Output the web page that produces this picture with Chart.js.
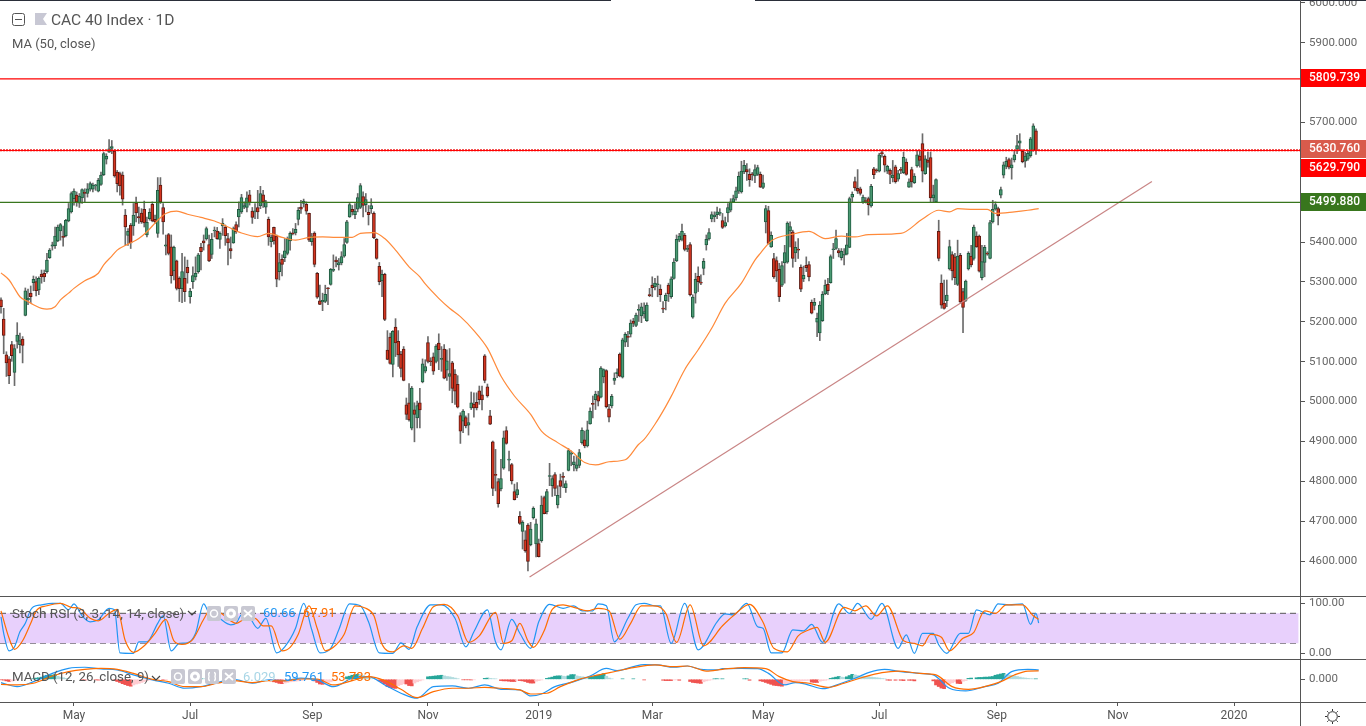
<!DOCTYPE html>
<html>
<head>
<meta charset="utf-8">
<title>CAC 40 Index</title>
<script src="https://cdn.jsdelivr.net/npm/chart.js"></script>
<style>
html, body { margin: 0; padding: 0; background: #fff; overflow: hidden; }
#wrap { position: relative; width: 1366px; height: 726px; font-family: Roboto, sans-serif; color: #555; }
canvas { position: absolute; left: 0; }
.t { position: absolute; white-space: pre; font-size: 13px; line-height: 16px; z-index: 5; }
.rule { position: absolute; background: #555; z-index: 4; }
.ic { position: absolute; z-index: 5; }
</style>
</head>
<body>
<div id="wrap">
  <canvas id="priceChart" width="1366" height="596" style="top:0"></canvas>
  <canvas id="stochChart" width="1366" height="62" style="top:597px"></canvas>
  <canvas id="macdChart" width="1366" height="66" style="top:660px"></canvas>

  <div class="rule" style="left:0;top:0;width:611px;height:1px;background:#2a2e39"></div>
  <div class="rule" style="left:755px;top:0;width:611px;height:1px;background:#2a2e39"></div>
  <div class="rule" style="left:0;top:596px;width:1366px;height:1px"></div>
  <div class="rule" style="left:0;top:659px;width:1366px;height:1px"></div>
  <div class="rule" style="left:0;top:702px;width:1366px;height:1px"></div>
  <div class="rule" style="left:1300px;top:0;width:1px;height:726px"></div>

  <svg class="ic" style="left:12px;top:13px" width="14" height="14"><rect x="0.5" y="0.5" width="12" height="12" rx="2" fill="none" stroke="#555"/><line x1="3" y1="6.5" x2="10" y2="6.5" stroke="#555"/></svg>
  <svg class="ic" style="left:35px;top:13px" width="13" height="13"><polygon points="0,0 12,0 8,6 12,12 0,12" fill="#c8c8d4"/></svg>
  <div class="t" style="left:51px;top:11px;font-size:15.5px;line-height:18px">CAC 40 Index · 1D</div>
  <div class="t" style="left:12px;top:36px">MA (50, close)</div>

  <div class="t" style="left:12px;top:605px;font-size:13.5px">Stoch RSI (3, 3, 14, 14, close)</div>
  <svg class="ic" style="left:187px;top:610px" width="10" height="8"><polyline points="1,1 5,5 9,1" fill="none" stroke="#444" stroke-width="1.2"/></svg>
  <svg class="ic" style="left:207px;top:606px" width="48" height="15">
    <rect width="14" height="15" rx="2" fill="#c8c8d2"/><circle cx="7" cy="7.5" r="3.5" fill="none" stroke="#fff" stroke-width="1.5"/>
    <rect x="17" width="14" height="15" rx="2" fill="#c8c8d2"/><circle cx="24" cy="7.5" r="3.5" fill="none" stroke="#fff" stroke-width="3"/>
    <rect x="34" width="14" height="15" rx="2" fill="#c8c8d2"/><path d="M37 4L45 11M45 4L37 11" stroke="#fff" stroke-width="1.8"/>
  </svg>
  <div class="t" style="left:263px;top:605px;color:#2196f3">60.66</div>
  <div class="t" style="left:303px;top:605px;color:#ff6d00">67.91</div>

  <div class="t" style="left:12px;top:669px;font-size:13.3px">MACD (12, 26, close, 9)</div>
  <svg class="ic" style="left:151px;top:675px" width="10" height="8"><polyline points="1,1 5,5 9,1" fill="none" stroke="#444" stroke-width="1.2"/></svg>
  <svg class="ic" style="left:171px;top:669px" width="65" height="15">
    <rect width="14" height="15" rx="2" fill="#c8c8d2"/><circle cx="7" cy="7.5" r="3.5" fill="none" stroke="#fff" stroke-width="1.5"/>
    <rect x="17" width="14" height="15" rx="2" fill="#c8c8d2"/><circle cx="24" cy="7.5" r="3.5" fill="none" stroke="#fff" stroke-width="3"/>
    <rect x="34" width="14" height="15" rx="2" fill="#c8c8d2"/><path d="M39 3.5Q37 3.5 38 7.5Q37 11.5 39 11.5M43 3.5Q45 3.5 44 7.5Q45 11.5 43 11.5" stroke="#fff" stroke-width="1.4" fill="none"/>
    <rect x="51" width="14" height="15" rx="2" fill="#c8c8d2"/><path d="M54 4L62 11M62 4L54 11" stroke="#fff" stroke-width="1.8"/>
  </svg>
  <div class="t" style="left:243px;top:669px;color:#a8d6e6">6.029</div>
  <div class="t" style="left:284px;top:669px;color:#2196f3">59.761</div>
  <div class="t" style="left:331px;top:669px;color:#ff6d00">53.733</div>

  <svg class="ic" style="left:1324px;top:708px" width="17" height="17"><circle cx="8.5" cy="8.5" r="4.8" fill="none" stroke="#333"/><path d="M8.5 1v2M8.5 14v2M1 8.5h2M14 8.5h2M3.2 3.2l1.4 1.4M12.4 12.4l1.4 1.4M3.2 13.8l1.4-1.4M12.4 4.6l1.4-1.4" stroke="#333"/></svg>
</div>

<script>
// daily candles, oldest first
const opens = [
5255,5207,5117,5107,5143,5073,5151,5143,5157,5216,
5255,5272,5298,5301,5280,5320,5322,5326,5361,5390,
5391,5403,5428,5414,5416,5453,5476,5509,5518,5498,
5511,5525,5522,5533,5533,5541,5528,5545,5569,5608,
5626,5635,5628,5576,5572,5568,5468,5417,5443,5441,
5498,5464,5473,5482,5418,5459,5495,5457,5422,5543,
5487,5390,5419,5388,5328,5353,5309,5283,5309,5337,
5263,5301,5313,5326,5387,5403,5408,5394,5369,5428,
5428,5407,5441,5437,5409,5384,5398,5444,5463,5476,
5488,5487,5519,5478,5476,5487,5491,5519,5488,5457,
5401,5437,5415,5326,5357,5361,5372,5403,5423,5423,
5457,5488,5497,5495,5472,5401,5423,5322,5253,5250,
5251,5284,5294,5329,5355,5343,5348,5365,5399,5463,
5482,5469,5483,5487,5514,5494,5475,5484,5472,5407,
5339,5303,5319,5129,5162,5093,5187,5151,5119,5132,
4992,4997,4933,4979,4959,4997,5049,5076,5148,5102,
5112,5101,5147,5106,5132,5079,5063,5097,5069,5043,
4965,4951,4960,4941,4984,4994,4998,5027,5017,5115,
5037,4964,4899,4816,4799,4781,4833,4927,4853,4842,
4774,4766,4712,4674,4653,4690,4641,4709,4643,4644,
4651,4759,4724,4812,4789,4817,4741,4802,4812,4784,
4827,4868,4842,4832,4840,4897,4904,4889,4944,4995,
5005,5015,5011,5062,5078,4982,4989,5053,5070,5119,
5061,5149,5163,5169,5202,5191,5229,5215,5220,5203,
5268,5292,5288,5293,5282,5234,5253,5292,5263,5309,
5353,5405,5407,5417,5382,5394,5212,5272,5314,5299,
5334,5393,5408,5458,5464,5469,5472,5454,5441,5473,
5480,5501,5511,5528,5526,5576,5582,5570,5571,5566,
5570,5570,5537,5451,5479,5388,5359,5354,5332,5292,
5348,5350,5428,5426,5373,5382,5337,5308,5342,5344,
5249,5241,5199,5172,5203,5270,5294,5298,5381,5384,
5379,5361,5367,5370,5387,5513,5552,5535,5534,5500,
5504,5509,5491,5584,5580,5578,5623,5615,5578,5580,
5561,5589,5558,5581,5574,5601,5538,5582,5549,5591,
5616,5647,5572,5606,5612,5511,5501,5427,5297,5247,
5253,5333,5369,5363,5294,5367,5276,5254,5333,5365,
5359,5415,5415,5311,5349,5372,5359,5451,5483,5484,
5518,5568,5590,5607,5586,5606,5633,5648,5628,5603,
5608,5617,5630,5679];
const highs = [
5260,5234,5125,5113,5151,5143,5198,5172,5163,5285,
5282,5290,5315,5313,5313,5330,5330,5372,5384,5400,
5438,5443,5447,5440,5457,5497,5526,5534,5526,5522,
5534,5534,5547,5551,5548,5545,5560,5576,5626,5622,
5657,5655,5632,5580,5576,5576,5482,5434,5447,5497,
5513,5488,5484,5503,5463,5484,5501,5468,5562,5562,
5497,5418,5422,5418,5390,5355,5313,5372,5363,5355,
5284,5338,5363,5372,5397,5418,5438,5418,5422,5438,
5437,5426,5459,5443,5422,5413,5438,5451,5501,5520,
5501,5526,5530,5487,5497,5530,5540,5530,5505,5463,
5418,5438,5418,5372,5368,5409,5413,5426,5434,5447,
5487,5505,5508,5501,5473,5422,5426,5324,5292,5272,
5292,5286,5334,5368,5363,5359,5376,5409,5455,5498,
5492,5497,5522,5547,5526,5522,5492,5509,5476,5409,
5349,5330,5322,5178,5172,5178,5208,5178,5126,5138,
5009,5045,5038,4997,5001,5033,5107,5105,5163,5110,
5122,5143,5170,5138,5143,5130,5133,5101,5080,5065,
4972,4980,4964,4970,5024,5022,5022,5039,5039,5118,
5044,4978,4901,4880,4807,4855,4926,4937,4876,4845,
4793,4797,4724,4701,4676,4694,4697,4736,4705,4655,
4763,4763,4780,4845,4814,4822,4789,4818,4822,4801,
4882,4876,4863,4863,4880,4934,4926,4951,4984,5014,
5026,5026,5088,5082,5080,4993,5018,5072,5082,5122,
5159,5173,5176,5205,5209,5222,5243,5247,5248,5248,
5284,5313,5309,5315,5293,5251,5272,5297,5313,5359,
5418,5422,5445,5422,5392,5399,5268,5322,5338,5318,
5359,5418,5434,5476,5476,5488,5484,5472,5463,5497,
5509,5518,5538,5576,5603,5605,5597,5584,5575,5594,
5593,5576,5568,5492,5490,5426,5372,5363,5347,5351,
5392,5451,5451,5430,5401,5409,5343,5340,5363,5351,
5255,5259,5222,5251,5276,5305,5309,5368,5397,5430,
5384,5384,5384,5422,5513,5526,5563,5582,5538,5518,
5512,5513,5545,5588,5584,5623,5630,5619,5593,5584,
5605,5593,5580,5588,5626,5609,5559,5588,5572,5630,
5630,5672,5617,5626,5626,5543,5559,5455,5318,5305,
5305,5405,5376,5372,5405,5372,5284,5305,5376,5392,
5443,5426,5418,5392,5392,5376,5455,5505,5501,5488,
5538,5601,5613,5611,5611,5630,5668,5672,5632,5626,
5630,5663,5697,5684];
const lows = [
5222,5120,5063,5045,5101,5040,5134,5122,5097,5215,
5243,5248,5278,5265,5268,5297,5301,5322,5359,5380,
5384,5401,5405,5390,5413,5451,5473,5493,5490,5487,
5497,5501,5513,5528,5526,5530,5526,5542,5567,5596,
5625,5622,5563,5526,5518,5493,5392,5392,5384,5417,
5451,5447,5447,5438,5413,5455,5451,5447,5412,5497,
5420,5368,5368,5297,5305,5280,5251,5248,5251,5297,
5247,5284,5305,5322,5330,5380,5405,5351,5359,5413,
5407,5384,5417,5392,5343,5359,5397,5422,5438,5472,
5484,5476,5493,5447,5459,5459,5484,5487,5472,5392,
5388,5395,5288,5305,5315,5351,5368,5380,5418,5418,
5443,5472,5488,5470,5401,5392,5338,5259,5243,5228,
5248,5243,5292,5326,5338,5330,5343,5362,5397,5462,
5468,5459,5476,5484,5463,5476,5443,5472,5409,5357,
5293,5263,5203,5105,5094,5062,5113,5088,5062,5052,
4955,4951,4929,4899,4934,4934,5047,5072,5097,5090,
5068,5097,5080,5076,5057,5053,5028,4997,4993,4984,
4895,4922,4934,4916,4980,4961,4979,4993,4979,5047,
5011,4942,4764,4776,4735,4776,4830,4893,4826,4793,
4753,4759,4692,4630,4622,4575,4638,4705,4610,4610,
4647,4718,4718,4789,4762,4764,4733,4759,4784,4772,
4826,4839,4826,4826,4834,4893,4884,4886,4943,4959,
4980,4989,5009,5047,4984,4949,4984,5043,5060,5062,
5059,5138,5138,5162,5188,5188,5201,5198,5209,5201,
5263,5263,5280,5263,5251,5223,5230,5251,5259,5307,
5351,5401,5403,5378,5376,5265,5209,5247,5276,5293,
5318,5380,5405,5451,5451,5459,5467,5434,5438,5451,
5476,5499,5505,5522,5523,5572,5555,5540,5555,5549,
5567,5537,5534,5423,5395,5387,5309,5301,5251,5288,
5297,5347,5388,5337,5351,5359,5276,5301,5326,5303,
5220,5230,5163,5153,5201,5268,5268,5297,5359,5382,
5363,5355,5343,5368,5386,5501,5530,5522,5518,5497,
5498,5468,5488,5559,5575,5576,5613,5576,5572,5547,
5551,5548,5553,5572,5572,5568,5537,5538,5547,5588,
5588,5551,5570,5588,5501,5501,5500,5353,5234,5232,
5238,5330,5305,5293,5291,5247,5173,5251,5330,5338,
5355,5387,5325,5305,5313,5367,5358,5448,5480,5443,
5511,5561,5584,5584,5558,5601,5622,5630,5599,5588,
5605,5613,5628,5620];
const closes = [
5238,5166,5097,5065,5115,5133,5167,5153,5141,5278,
5259,5263,5307,5278,5309,5313,5313,5355,5380,5393,
5415,5438,5444,5412,5455,5484,5522,5528,5501,5515,
5532,5522,5534,5547,5543,5543,5555,5568,5622,5615,
5634,5640,5566,5547,5541,5508,5438,5427,5398,5468,
5473,5461,5451,5448,5450,5475,5453,5451,5530,5501,
5451,5393,5372,5316,5387,5284,5283,5326,5276,5323,
5277,5316,5322,5368,5376,5398,5434,5353,5407,5430,
5409,5422,5447,5416,5398,5378,5434,5426,5482,5512,
5492,5511,5499,5462,5478,5476,5522,5501,5501,5413,
5412,5403,5307,5349,5344,5378,5409,5422,5421,5432,
5480,5483,5503,5478,5405,5415,5344,5262,5244,5254,
5269,5283,5332,5331,5351,5349,5364,5394,5451,5494,
5476,5478,5512,5542,5492,5507,5469,5492,5411,5359,
5301,5319,5206,5106,5096,5176,5147,5117,5083,5053,
4968,4954,5034,4968,4990,4979,5095,5088,5101,5100,
5076,5139,5130,5108,5059,5102,5070,5033,5026,4986,
4926,4976,4939,4947,4997,4984,4984,5005,5004,5053,
5014,4943,4782,4815,4744,4807,4909,4895,4855,4801,
4754,4779,4694,4697,4626,4599,4680,4732,4693,4611,
4740,4719,4774,4814,4807,4782,4765,4787,4810,4794,
4877,4870,4849,4841,4872,4928,4889,4929,4976,4993,
5019,5001,5084,5080,4987,4961,5013,5059,5074,5064,
5155,5169,5161,5197,5196,5217,5231,5238,5226,5242,
5266,5286,5297,5295,5268,5232,5267,5270,5308,5350,
5407,5415,5427,5382,5384,5268,5262,5307,5301,5297,
5352,5407,5424,5469,5468,5476,5474,5437,5449,5487,
5501,5509,5529,5565,5578,5593,5576,5557,5569,5582,
5587,5538,5549,5484,5397,5417,5313,5328,5263,5341,
5374,5448,5439,5359,5387,5380,5282,5317,5336,5313,
5222,5249,5209,5242,5269,5292,5278,5364,5383,5409,
5373,5377,5368,5393,5509,5520,5536,5528,5522,5513,
5502,5494,5540,5569,5579,5619,5622,5593,5590,5570,
5568,5552,5572,5580,5613,5570,5551,5551,5566,5619,
5605,5578,5609,5600,5511,5519,5557,5359,5242,5234,
5267,5389,5328,5311,5365,5250,5236,5302,5372,5343,
5438,5388,5327,5351,5387,5370,5449,5482,5494,5466,
5532,5594,5603,5588,5594,5619,5642,5654,5602,5616,
5623,5659,5692,5630];

// MA (50) read at these bar numbers
const maBars = [0,3,5,7,10,12,15,17,20,22,25,27,31,36,38,41,43,47,51,54,58,61,65,69,74,79,84,89,95,99,104,109,114,119,124,130,133,138,142,146,151,155,157,162,166,170,175,180,185,190,196,200,206,211,216,220,225,231,236,238,242,246,248,253,258,263,268,274,279,281,285,293,299,305,311,316,321,333,341,347,351,354,360,365,368,375,380,384];
const maValues = [5323,5305,5284,5263,5251,5243,5234,5232,5238,5255,5272,5284,5303,5322,5343,5365,5380,5395,5409,5426,5455,5472,5478,5470,5462,5453,5438,5423,5414,5422,5412,5405,5412,5413,5412,5412,5422,5424,5409,5380,5338,5313,5295,5259,5234,5213,5178,5134,5064,5014,4968,4926,4897,4876,4847,4841,4849,4854,4893,4905,4943,4988,5013,5080,5130,5184,5247,5297,5355,5372,5403,5420,5427,5409,5415,5413,5419,5422,5458,5480,5476,5484,5482,5482,5472,5476,5480,5484];

// Stoch RSI
const stochKBars = [0,1,3,5,7,9,11,12,15,19,22,25,27,30,33,36,40,42,44,49,51,54,58,60,63,66,69,72,75,77,80,85,87,89,91,95,98,102,105,109,112,115,118,122,125,129,133,136,140,145,148,151,154,159,163,168,172,175,180,183,185,189,192,196,199,203,208,212,215,219,221,224,227,232,235,238,242,244,248,253,258,265,268,271,276,280,282,285,289,293,297,300,304,310,314,317,322,326,332,335,338,341,345,347,350,355,358,361,366,369,373,378,381,383,384];
const stochK = [73,40,5,13,43,60,87,93,97,100,100,87,99,75,63,67,90,87,1,0,23,23,60,75,5,20,21,40,99,80,73,57,60,77,77,50,70,1,13,50,100,47,1,10,47,99,95,63,1,0,21,8,53,97,97,70,13,43,87,23,7,68,40,10,63,98,90,95,85,85,99,95,23,70,97,100,95,95,20,100,7,63,79,77,100,53,50,1,1,47,45,58,22,99,80,100,68,100,10,37,0,40,40,17,0,40,40,87,77,99,97,99,58,80,60.66];
const stochDBars = [0,3,5,8,11,13,17,22,26,29,33,36,40,43,46,49,53,57,61,64,67,71,75,78,82,87,90,94,97,100,104,107,110,114,117,120,123,127,131,135,138,141,145,149,152,156,160,164,169,173,177,183,186,189,192,195,197,201,204,208,212,217,221,225,229,233,237,242,246,250,255,260,267,271,277,282,286,291,295,299,302,305,312,316,320,324,328,334,338,341,344,348,351,356,360,364,368,372,378,382,384];
const stochD = [85,30,8,25,60,85,95,100,92,90,70,65,80,88,25,2,15,40,68,25,18,28,68,92,78,60,68,70,55,55,5,12,38,95,50,5,12,38,95,90,75,18,3,15,10,50,93,98,75,22,35,82,20,25,60,25,12,45,88,97,92,85,90,85,28,60,95,95,80,22,97,15,55,75,98,62,10,3,35,47,52,22,92,85,95,75,95,25,20,15,38,32,5,30,42,85,80,97,97,75,67.91];

// MACD lines
const macdBars = [0,6,12,19,25,31,37,43,49,56,62,68,74,80,86,93,99,105,111,117,123,130,136,142,148,154,160,167,173,179,185,192,196,200,205,212,218,224,228,234,238,243,249,254,259,265,267,274,280,284,290,294,298,304,311,318,321,327,333,340,345,351,357,364,369,374,380,384];
const macdLine = [-21,-47,-15,38,70,77,66,60,28,-4,-25,-57,-47,-21,0,-25,-4,-8,7,-4,-47,7,17,-36,-89,-121,-47,-42,-57,-36,-64,-68,-106,-94,-47,-15,21,70,55,81,94,92,77,85,64,60,68,70,68,38,-36,-21,-32,-60,-25,21,43,64,49,38,28,-57,-74,-47,-25,49,64,59.76];
const signalBars = [0,6,12,19,25,31,37,43,49,56,62,68,74,80,86,93,99,105,111,117,123,130,136,142,148,154,160,167,173,179,185,192,196,202,207,214,221,228,234,242,249,254,261,267,275,283,288,293,299,306,312,319,326,332,340,346,352,358,365,370,375,380,384];
const signalLine = [-32,-36,-25,21,49,64,70,64,38,0,-15,-47,-47,-25,-8,-21,-8,-10,2,2,-36,-8,17,-8,-64,-117,-79,-57,-57,-51,-57,-68,-94,-89,-47,0,28,53,75,92,81,85,53,64,75,68,17,-15,-25,-51,-25,13,43,53,38,28,-47,-64,-42,-15,28,53,53.73];
const histBars = [0,1,2,3,4,5,6,12,13,14,15,16,17,18,19,20,21,22,23,24,25,30,31,32,35,36,37,42,43,44,45,46,47,48,49,50,51,52,53,54,55,60,61,74,75,77,100,101,102,103,104,105,106,107,108,109,110,111,112,116,117,118,119,120,121,122,123,124,128,129,130,131,132,133,134,135,136,137,140,141,142,143,144,145,146,147,148,149,150,151,152,153,154,155,156,158,159,160,161,162,163,164,165,166,167,168,169,171,172,173,174,175,179,180,181,182,183,185,186,187,188,189,190,191,192,193,194,195,196,197,198,199,200,202,203,204,205,206,207,208,209,210,211,212,213,214,215,216,217,218,219,220,221,222,223,224,225,226,230,234,238,245,246,247,248,249,250,251,255,256,257,258,259,260,261,262,263,264,265,266,267,275,276,277,281,282,283,284,285,286,287,288,289,290,291,292,293,294,295,296,297,298,299,300,301,302,303,304,305,306,307,308,309,310,311,312,313,314,315,316,317,318,319,320,321,322,323,324,325,326,327,328,329,331,332,333,334,336,337,338,345,346,347,348,349,350,351,352,353,354,355,356,357,358,359,361,362,363,364,365,366,367,368,369,370,371,372,373,374,375,376,377,378,379,380,381,382,383,384];
const histValues = [-3,-5,-10,-14,-12,-6,-3,4,8,10,14,22,26,26,28,30,20,14,10,6,4,-3,-5,-4,-3,-5,-3,-8,-14,-20,-28,-34,-40,-44,-36,-30,-26,-20,-14,-8,-4,-3,-2,6,4,3,-10,-16,-20,-26,-28,-24,-20,-16,-14,-12,-10,-8,-4,-10,-20,-30,-32,-24,-20,-16,-10,-5,16,20,26,30,32,30,24,18,10,4,-10,-20,-30,-46,-52,-56,-58,-40,-34,-28,-30,-40,-42,-24,-16,-10,-4,16,18,20,22,24,26,22,18,16,12,8,4,-3,-3,-3,-4,-3,6,8,6,4,3,-8,-10,-10,-12,-14,-14,-8,-8,-10,-14,-20,-24,-24,-12,-8,-4,6,10,14,20,22,22,20,18,22,30,30,22,18,16,14,12,14,18,22,26,30,36,20,8,3,3,3,-4,-6,-8,-8,-8,-4,-3,-6,-14,-20,-22,-24,-26,-16,-10,-6,-3,3,4,3,3,3,3,-6,-10,-14,-20,-26,-32,-38,-40,-42,-44,-34,-30,-26,-20,-15,-14,-12,-10,-8,-7,-18,-20,-20,-12,-8,-6,-3,6,10,14,18,14,12,16,24,32,28,24,22,20,18,16,14,12,10,8,5,3,-5,-6,-6,-5,-6,-8,-6,-6,-10,-10,-36,-46,-56,-60,-36,-28,-22,-14,-26,-28,-12,-8,6,8,10,12,12,14,14,16,18,26,30,34,38,30,28,26,22,18,14,10,8,6,4,3,3];

// horizontal levels, trend line, scale marks
const resistanceHigh = 5809.739;
const resistanceLast = 5629.790;
const lastPrice = 5630.760;
const supportLevel = 5499.880;
const trendBars = [195.6, 425.9];
const trendValues = [4560, 5552];
const priceTicks = [4600,4700,4800,4900,5000,5100,5200,5300,5400,5700,5900,6000];
const tickBars = [27,70,115.2,158,199,241,282,325,368.5,413.3,456.3];
const tickLabels = ['May','Jul','Sep','Nov','2019','Mar','May','Jul','Sep','Nov','2020'];
const tagValues = [5809.739, 5630.760, 5629.790, 5499.880];
const tagColors = ['#ff0000', '#d95b4c', '#ff0000', '#38761d'];
const tagShift = [-1, -1, 17, 0];

const xMin = -0.37, xMax = 480.7;
const font = { family: 'Roboto, sans-serif', size: 12 };
const axisFont = { family: 'Roboto, sans-serif', size: 11.5 };

function xScale(show) {
  return {
    type: 'linear', min: xMin, max: xMax, offset: false, display: show,
    afterBuildTicks: s => { s.ticks = tickBars.map(v => ({ value: v })) },
    afterFit: s => { s.height = show ? 24 : 0; s.paddingLeft = 0; s.paddingRight = 0 },
    ticks: { autoSkip: false, maxRotation: 0, color: '#555', font: font, padding: 3,
      callback: v => tickLabels[tickBars.indexOf(v)] },
    grid: { offset: false, drawOnChartArea: false, tickLength: 4, tickColor: '#555' },
    border: { display: false }
  };
}

function yScale(min, max, ticks, digits) {
  return {
    position: 'right', min: min, max: max,
    afterBuildTicks: s => { s.ticks = ticks.map(v => ({ value: v })) },
    afterFit: s => { s.width = 66; s.paddingTop = 0; s.paddingBottom = 0 },
    ticks: { autoSkip: false, color: '#666', font: axisFont, padding: 4, callback: v => v.toFixed(digits) },
    grid: { drawOnChartArea: false, tickLength: 5, tickColor: '#555' },
    border: { display: false }
  };
}

function hLine(y, color, dash, order, width) {
  return { type: 'line', data: [{ x: xMin, y: y }, { x: xMax, y: y }], borderColor: color, borderWidth: width,
    borderDash: dash, pointRadius: 0, order: order };
}

// curve through the points, no overshoot
function curve(xs, ys, color, width, order) {
  return { type: 'line', data: xs.map((x, i) => ({ x: x, y: ys[i] })), borderColor: color, borderWidth: width,
    cubicInterpolationMode: 'monotone', pointRadius: 0, order: order };
}

const baseOptions = { responsive: false, animation: false, events: [], layout: { padding: 0 },
  plugins: { legend: { display: false }, tooltip: { enabled: false } } };

const upDown = (a, b) => opens.map((o, i) => closes[i] >= o ? a : b);

// red/green price tags sitting on the axis
const priceTags = {
  id: 'priceTags',
  afterDraw(chart) {
    const ctx = chart.ctx, y = chart.scales.y;
    ctx.save();
    ctx.font = '500 12px Roboto, sans-serif';
    ctx.textBaseline = 'middle';
    tagValues.forEach((v, i) => {
      const py = Math.round(y.getPixelForValue(v)) + tagShift[i];
      ctx.fillStyle = tagColors[i];
      ctx.fillRect(1301, py - 9, 65, 18);
      ctx.fillStyle = '#fff';
      ctx.fillText(v.toFixed(3), 1309, py);
    });
    ctx.restore();
  }
};

new Chart('priceChart', {
  type: 'bar',
  plugins: [priceTags],
  data: { datasets: [
    { data: opens.map((o, i) => ({ x: i, y: [lows[i], highs[i]] })), backgroundColor: '#6b6b6b',
      barThickness: 1, grouped: false, order: 5 },
    { data: opens.map((o, i) => ({ x: i, y: [o, closes[i]] })), backgroundColor: upDown('#4b9a73', '#d4351f'),
      borderColor: upDown('#1f5a40', '#5c1a12'), borderWidth: 1, borderSkipped: false, minBarLength: 1,
      barThickness: 3, grouped: false, order: 4 },
    curve(maBars, maValues, '#ff8a3a', 1.2, 3),
    curve(trendBars, trendValues, '#c98585', 1.2, 2),
    hLine(resistanceHigh, '#ff0000', [], 1, 1.3),
    hLine(resistanceLast, '#ff0000', [], 0, 1),
    hLine(lastPrice, '#f02020', [2, 1], 1, 2),
    hLine(supportLevel, '#38761d', [], 1, 1.3)
  ] },
  options: { ...baseOptions, scales: { x: xScale(false), y: yScale(4512.2, 6007.5, priceTicks, 3) } }
});

new Chart('stochChart', {
  type: 'line',
  data: { datasets: [
    { data: [{ x: xMin, y: 80 }, { x: xMax - 0.5, y: 80 }], borderColor: '#555', borderWidth: 1, borderDash: [6, 4],
      pointRadius: 0, fill: '+1', backgroundColor: '#e8d0fc', order: 3 },
    { data: [{ x: xMin, y: 20 }, { x: xMax - 0.5, y: 20 }], borderColor: '#555', borderWidth: 1, borderDash: [6, 4],
      pointRadius: 0, order: 3 },
    curve(stochKBars, stochK, '#2196f3', 1.2, 2),
    curve(stochDBars, stochD, '#ff6d00', 1.2, 1)
  ] },
  options: { ...baseOptions, scales: { x: xScale(false), y: yScale(-11.4, 112.6, [0, 100], 2) } }
});

const histColors = histValues.map((v, i) => {
  const prev = histBars[i - 1] === histBars[i] - 1 ? histValues[i - 1] : 0;
  if (v >= 0) return v >= prev ? '#26a69a' : '#b2dcdf';
  return v <= prev ? '#ef5350' : '#ffcdd2';
});

new Chart('macdChart', {
  type: 'bar',
  data: { datasets: [
    { data: histBars.map((x, i) => ({ x: x, y: histValues[i] })), backgroundColor: histColors, barThickness: 3, grouped: false, order: 3 },
    curve(macdBars, macdLine, '#2196f3', 1.2, 2),
    curve(signalBars, signalLine, '#ff6d00', 1.2, 1)
  ] },
  options: { ...baseOptions, scales: { x: xScale(true), y: yScale(-145, 123.5, [0], 3) } }
});
</script>
</body>
</html>
